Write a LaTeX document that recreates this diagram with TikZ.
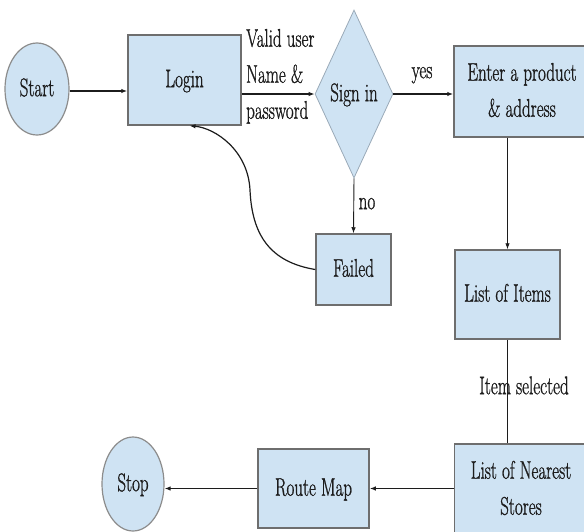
\documentclass[tikz,border=0pt]{standalone}
\usepackage{graphicx}
\usepackage{fontspec}
\setmainfont{Latin Modern Roman}[FakeBold=1.2]
\usetikzlibrary{shapes.geometric,arrows.meta}
\definecolor{boxfill}{HTML}{CFE3F3}
\definecolor{boxline}{HTML}{6E6E6E}
\definecolor{ovalline}{HTML}{8C8C8C}
\definecolor{diamline}{HTML}{9AAAB8}
\definecolor{ink}{HTML}{1C1C1C}
\newcommand{\tx}[1]{\scalebox{1}[1.5]{\begin{tabular}{@{}c@{}}#1\end{tabular}}}
\newcommand{\txl}[1]{\scalebox{1}[1.5]{\begin{tabular}{@{}l@{}}#1\end{tabular}}}
\tikzset{
  every node/.style={font=\fontsize{17}{24}\selectfont, text=ink},
  procbox/.style={draw=boxline, fill=boxfill, line width=1.5pt, inner sep=0pt, rectangle},
  terminal/.style={draw=ovalline, fill=boxfill, line width=1.2pt, ellipse, inner sep=0pt},
  decision/.style={draw=diamline, fill=boxfill, line width=0.8pt, diamond, inner sep=0pt, aspect=0.46},
  lbl/.style={inner sep=0pt},
  flow/.style={draw=ink, line width=1.5pt, -{Latex[length=6pt,width=4.5pt]}},
  thinflow/.style={draw=ink, line width=0.9pt, -{Latex[length=6pt,width=4.5pt]}},
  plain/.style={draw=ink, line width=0.9pt}
}
\begin{document}
\begin{tikzpicture}[x=1pt,y=-1pt]
\useasboundingbox (0,0) rectangle (584,531);
\clip (0,0) rectangle (584,531);
% nodes
\node[terminal, minimum width=64pt, minimum height=92pt] (start) at (37,89) {\tx{Start}};
\node[procbox, minimum width=113pt, minimum height=90pt] (login) at (184.5,80) {\tx{Login}};
\node[decision, minimum width=78pt, minimum height=168pt] (sign) at (354,94) {\tx{Sign in}};
\node[procbox, minimum width=136pt, minimum height=91pt] (enter) at (522,91.5) {\tx{Enter a product\\ \& address}};
\node[procbox, minimum width=75pt, minimum height=71pt] (failed) at (353.5,269.5) {\tx{Failed}};
\node[procbox, minimum width=105pt, minimum height=89pt] (items) at (507.5,294.5) {\tx{List of Items}};
\node[procbox, minimum width=133pt, minimum height=91pt] (nearest) at (521,489.5) {\tx{List of Nearest\\ Stores}};
\node[procbox, minimum width=111pt, minimum height=79pt] (route) at (313.5,488.5) {\tx{Route Map}};
\node[terminal, minimum width=62pt, minimum height=94pt] (stop) at (133,484) {\tx{Stop}};
% labels
\node[lbl, anchor=west] (cred) at (246,75.5) {\txl{Valid user\\ Name \&\\ password}};
\node[lbl] (yes) at (422,71) {\tx{yes}};
\node[lbl] (no) at (367,202) {\tx{no}};
\node[lbl] (sel) at (524,387) {\tx{Item selected}};
% connectors
\draw[flow] (start.east |- 0,91) -- (login.west |- 0,91);
\draw[flow] (sign.west -| login.east) -- (sign.west);
\draw[flow] (sign.east) -- (sign.east -| enter.west);
\draw[thinflow] (sign.south) -- (failed.north);
\draw[thinflow] (items.north |- enter.south) -- (items.north);
\draw[plain] (items.south) -- (items.south |- nearest.north);
\draw[flow] (nearest.west |- route.east) -- (route.east);
\draw[flow] (route.west) -- (stop.east |- route.west);
\draw[flow, line width=1.2pt] (failed.west) .. controls (270,262) and (252,235) .. (250,190)
  .. controls (248,150) and (215,128) .. ([xshift=5pt]login.south);
\end{tikzpicture}
\end{document}
